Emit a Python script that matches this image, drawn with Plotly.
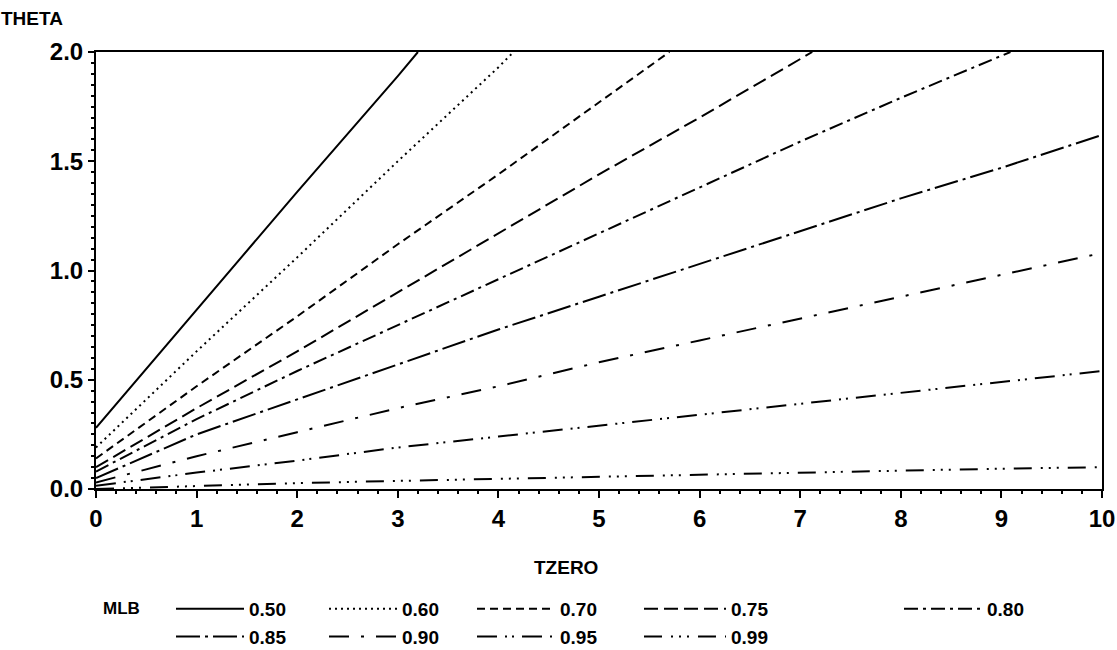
import plotly.graph_objects as go

# MLB levels shown in the legend
mlb_levels = ["0.50", "0.60", "0.70", "0.75", "0.80", "0.85", "0.90", "0.95", "0.99"]

# TZERO sample points and THETA values for each MLB curve
tzero_050 = [0, 1, 2, 3, 3.2]
theta_050 = [0.28, 0.82, 1.36, 1.89, 2.0]
tzero_060 = [0, 1, 2, 3, 4, 4.15]
theta_060 = [0.19, 0.63, 1.06, 1.50, 1.93, 2.0]
tzero_070 = [0, 1, 2, 3, 4, 5, 5.7]
theta_070 = [0.14, 0.47, 0.79, 1.12, 1.44, 1.77, 2.0]
tzero_075 = [0, 1, 2, 3, 4, 5, 6, 7, 7.12]
theta_075 = [0.10, 0.37, 0.63, 0.90, 1.17, 1.44, 1.70, 1.97, 2.0]
tzero_080 = [0, 1, 2, 3, 4, 5, 6, 7, 8, 9, 9.09]
theta_080 = [0.08, 0.32, 0.54, 0.75, 0.96, 1.17, 1.38, 1.59, 1.79, 1.98, 2.0]
tzero_all = [0, 1, 2, 3, 4, 5, 6, 7, 8, 9, 10]
theta_085 = [0.05, 0.25, 0.41, 0.57, 0.73, 0.88, 1.03, 1.18, 1.33, 1.47, 1.62]
theta_090 = [0.03, 0.15, 0.26, 0.37, 0.47, 0.58, 0.68, 0.78, 0.88, 0.98, 1.08]
theta_095 = [0.015, 0.075, 0.13, 0.19, 0.24, 0.29, 0.34, 0.39, 0.44, 0.49, 0.54]
theta_099 = [0.0, 0.015, 0.027, 0.037, 0.047, 0.057, 0.066, 0.075, 0.084, 0.093, 0.10]

series = [
    (tzero_050, theta_050),
    (tzero_060, theta_060),
    (tzero_070, theta_070),
    (tzero_075, theta_075),
    (tzero_080, theta_080),
    (tzero_all, theta_085),
    (tzero_all, theta_090),
    (tzero_all, theta_095),
    (tzero_all, theta_099),
]

dashes = [
    "solid",
    "2px,4px",
    "8px,5px",
    "14px,6px",
    "14px,5px,3px,5px",
    "24px,5px,3px,5px",
    "20px,12px,3px,12px",
    "20px,8px,2px,5px,2px,8px",
    "18px,9px,2px,6px,2px,6px,2px,9px",
]

FONT = "Liberation Sans, Arial, sans-serif"
W, H = 1117, 650
L, R, T, B = 96, 15, 52, 161
PLOT_W, PLOT_H = W - L - R, H - T - B

# legend columns: left edge and symbol width in pixels; both rows share a column
legend_ids = ["legend", "legend2", "legend3", "legend4", "legend5",
              "legend", "legend2", "legend3", "legend4"]
legend_left_px = [171, 324, 472, 639, 899]
legend_item_w = [68, 68, 78, 82, 78]
legend_top_px = 590
row1_center_px = 608

fig = go.Figure()
for lvl, (xs, ys), dash, lid in zip(mlb_levels, series, dashes, legend_ids):
    fig.add_trace(go.Scatter(
        x=xs, y=ys, mode="lines", name=lvl,
        line=dict(color="black", width=2, dash=dash),
        legend=lid,
    ))

legend_font = dict(family=FONT, size=19, color="black", weight="bold")
legends = {}
for i, (px, iw) in enumerate(zip(legend_left_px, legend_item_w)):
    key = "legend" if i == 0 else f"legend{i + 1}"
    legends[key] = dict(
        orientation="v", xref="container", yref="container",
        x=px / W, y=1 - legend_top_px / H, xanchor="left", yanchor="top",
        font=legend_font, itemwidth=iw, tracegroupgap=0,
        bgcolor="rgba(0,0,0,0)", borderwidth=0,
        itemclick=False, itemdoubleclick=False,
    )

tick_font = dict(family=FONT, size=24, color="black", weight="bold")
title_font = dict(family=FONT, size=19, color="black", weight="bold")
mlb_font = dict(family=FONT, size=17, color="black", weight="bold")


def paper_x(px):
    return (px - L) / PLOT_W


def paper_y(py):
    return (T + PLOT_H - py) / PLOT_H


fig.update_layout(
    width=W, height=H,
    margin=dict(l=L, r=R, t=T, b=B, autoexpand=False),
    paper_bgcolor="white", plot_bgcolor="white",
    showlegend=True,
    font=dict(family=FONT, color="black"),
    xaxis=dict(
        range=[0, 10], tickvals=[0, 1, 2, 3, 4, 5, 6, 7, 8, 9, 10],
        ticks="outside", ticklen=7, tickwidth=2, tickcolor="black",
        minor=dict(dtick=0.2, ticks="outside", ticklen=3, tickwidth=1.5, tickcolor="black"),
        showline=True, linecolor="black", linewidth=2, mirror=True,
        showgrid=False, zeroline=False, tickfont=tick_font,
    ),
    yaxis=dict(
        range=[0, 2], tickvals=[0, 0.5, 1.0, 1.5, 2.0], tickformat=".1f",
        ticks="outside", ticklen=6, tickwidth=2, tickcolor="black",
        minor=dict(dtick=0.05, ticks="outside", ticklen=3, tickwidth=1.5, tickcolor="black"),
        showline=True, linecolor="black", linewidth=2, mirror=True,
        showgrid=False, zeroline=False, tickfont=tick_font,
    ),
    annotations=[
        dict(text="THETA", xref="paper", yref="paper", x=paper_x(-1), y=paper_y(18),
             xanchor="left", yanchor="middle", showarrow=False, font=title_font),
        dict(text="TZERO", xref="paper", yref="paper", x=paper_x(566), y=paper_y(567),
             xanchor="center", yanchor="middle", showarrow=False, font=title_font),
        dict(text="MLB", xref="paper", yref="paper", x=paper_x(101), y=paper_y(row1_center_px),
             xanchor="left", yanchor="middle", showarrow=False, font=mlb_font),
    ],
    **legends,
)

fig.write_html("out.html")
